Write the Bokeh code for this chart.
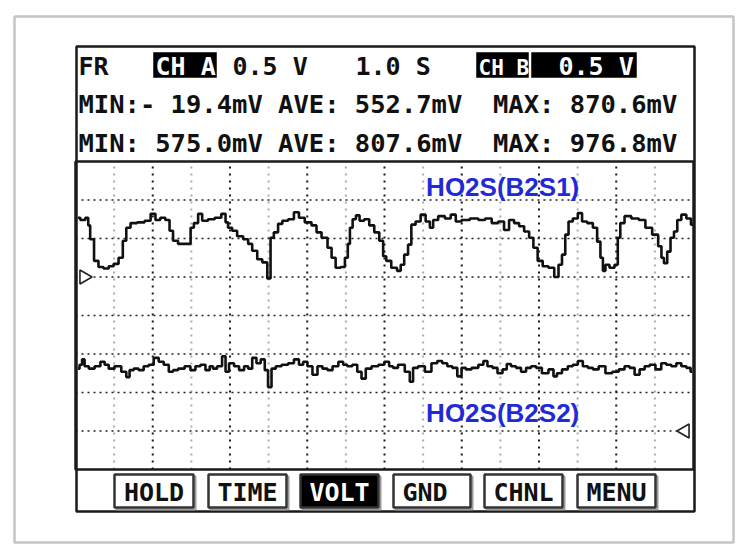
import math
from bokeh.plotting import figure
from bokeh.models import Range1d, Label
from bokeh.embed import file_html
from bokeh.resources import INLINE

# ---------------- data ----------------
time_per_div = 1.0      # s / div
volt_per_div = 0.5      # V / div

ch_a_t = [0.06, 0.19, 0.32, 0.34, 0.42, 0.54, 0.65, 0.80, 0.92, 1.05, 1.18, 1.27, 1.36, 1.49, 1.70,
          1.88, 2.01, 2.13, 2.26, 2.39, 2.48, 2.57, 2.74, 2.96, 3.00, 3.13, 3.22, 3.34, 3.52, 3.69,
          3.86, 3.91, 3.99, 4.12, 4.25, 4.43, 4.51, 4.64, 4.77, 4.90, 5.03, 5.07, 5.20, 5.29, 5.42,
          5.59, 5.72, 5.85, 6.02, 6.20, 6.28, 6.46, 6.59, 6.67, 6.80, 6.93, 7.02, 7.08, 7.13, 7.22,
          7.30, 7.41, 7.54, 7.67, 7.80, 7.93, 8.00, 8.09, 8.26, 8.39, 8.45, 8.57, 8.65, 8.74, 8.87,
          9.00, 9.13, 9.22, 9.30, 9.48, 9.65, 9.78, 9.91, 10.08, 10.34, 10.52, 10.69, 10.86, 11.03,
          11.16, 11.29, 11.42, 11.55, 11.68, 11.81, 11.90, 12.03, 12.16, 12.33, 12.46, 12.55, 12.64,
          12.72, 12.81, 12.94, 13.07, 13.16, 13.33, 13.46, 13.55, 13.63, 13.68, 13.76, 13.89, 14.02,
          14.06, 14.15, 14.28, 14.50, 14.67, 14.84, 15.02, 15.15, 15.19, 15.28, 15.36, 15.45, 15.54,
          15.62, 15.75, 15.88, 15.99]
ch_a_v = [0.77, 0.74, 0.77, 0.67, 0.49, 0.21, 0.13, 0.11, 0.14, 0.17, 0.25, 0.47, 0.64, 0.70, 0.71,
          0.73, 0.82, 0.74, 0.77, 0.74, 0.60, 0.47, 0.43, 0.43, 0.64, 0.70, 0.82, 0.73, 0.75, 0.77,
          0.82, 0.71, 0.64, 0.60, 0.53, 0.49, 0.43, 0.34, 0.23, 0.19, -0.02, 0.51, 0.58, 0.69, 0.73,
          0.75, 0.84, 0.77, 0.71, 0.67, 0.58, 0.51, 0.38, 0.25, 0.12, 0.13, 0.25, 0.43, 0.64, 0.75,
          0.80, 0.73, 0.75, 0.67, 0.58, 0.47, 0.27, 0.21, 0.12, 0.08, 0.16, 0.29, 0.42, 0.68, 0.72,
          0.81, 0.72, 0.64, 0.74, 0.79, 0.76, 0.81, 0.72, 0.74, 0.76, 0.74, 0.76, 0.70, 0.72,
          0.61, 0.74, 0.70, 0.66, 0.59, 0.51, 0.38, 0.21, 0.14, 0.12, 0.00, 0.16, 0.29,
          0.55, 0.72, 0.76, 0.83, 0.72, 0.70, 0.64, 0.46, 0.25, 0.08, 0.16, 0.12, 0.16,
          0.51, 0.70, 0.79, 0.76, 0.74, 0.64, 0.55, 0.40, 0.25, 0.18, 0.33, 0.51, 0.59,
          0.74, 0.81, 0.76, 0.68]

ch_b_t = [0.06, 0.15, 0.19, 0.28, 0.41, 0.58, 0.71, 0.80, 0.92, 1.10, 1.27, 1.36, 1.44, 1.57, 1.70,
          1.83, 1.96, 2.09, 2.22, 2.35, 2.48, 2.57, 2.74, 2.91, 3.04, 3.17, 3.30, 3.43, 3.52, 3.60,
          3.73, 3.86, 3.91, 4.04, 4.17, 4.30, 4.43, 4.51, 4.64, 4.73, 4.86, 4.94, 5.03, 5.12, 5.25,
          5.42, 5.59, 5.72, 5.85, 5.94, 6.07, 6.20, 6.33, 6.46, 6.59, 6.72, 6.89, 6.97, 7.10, 7.23,
          7.36, 7.45, 7.58, 7.75, 7.93, 8.06, 8.18, 8.26, 8.44, 8.61, 8.70, 8.78, 8.96, 9.13, 9.30,
          9.43, 9.56, 9.69, 9.82, 9.95, 10.04, 10.17, 10.34, 10.52, 10.60, 10.73, 10.86, 10.99, 11.12,
          11.21, 11.34, 11.47, 11.60, 11.73, 11.86, 11.99, 12.16, 12.33, 12.42, 12.51, 12.68, 12.81,
          12.94, 13.07, 13.20, 13.33, 13.46, 13.63, 13.81, 13.98, 14.15, 14.28, 14.41, 14.54, 14.67,
          14.80, 14.93, 15.10, 15.23, 15.36, 15.49, 15.62, 15.75, 15.88, 15.97]
ch_b_v = [0.81, 0.86, 0.93, 0.84, 0.81, 0.84, 0.90, 0.86, 0.81, 0.84, 0.77, 0.70, 0.79, 0.81, 0.79,
          0.84, 0.86, 0.95, 0.90, 0.86, 0.77, 0.79, 0.81, 0.84, 0.79, 0.84, 0.86, 0.79, 0.84, 0.81,
          0.84, 0.97, 0.77, 0.88, 0.84, 0.79, 0.84, 0.81, 0.95, 0.88, 0.93, 0.79, 0.57, 0.81, 0.84,
          0.86, 0.88, 0.93, 0.86, 0.90, 0.84, 0.73, 0.84, 0.81, 0.79, 0.84, 0.90, 0.86, 0.84, 0.86,
          0.77, 0.68, 0.81, 0.84, 0.86, 0.90, 0.84, 0.82, 0.86, 0.77, 0.64, 0.82, 0.84, 0.77, 0.88,
          0.91, 0.88, 0.84, 0.82, 0.71, 0.82, 0.80, 0.82, 0.86, 0.91, 0.84, 0.82, 0.75, 0.80,
          0.87, 0.84, 0.82, 0.77, 0.82, 0.84, 0.82, 0.75, 0.80, 0.71, 0.75, 0.80, 0.84,
          0.86, 0.91, 0.84, 0.82, 0.80, 0.84, 0.75, 0.77, 0.80, 0.84, 0.82, 0.73, 0.80,
          0.84, 0.86, 0.80, 0.88, 0.86, 0.84, 0.88, 0.84, 0.82, 0.77]

header_tokens = ["FR", "CH A", "0.5 V", "1.0 S", "CH B", "0.5 V"]
ch_a_stats = ["- 19.4mV", "552.7mV", "870.6mV"]
ch_b_stats = ["575.0mV", "807.6mV", "976.8mV"]
buttons = ["HOLD", "TIME", "VOLT", "GND", "CHNL", "MENU"]
trace_names = ["HO2S(B2S1)", "HO2S(B2S2)"]

# ---------------- layout ----------------
W, H = 740, 552
MONO = "DejaVu Sans Mono"
NB = "\u00a0"
n_tdiv, n_vdiv = 16, 8
# scope graticule position on the canvas (pixels)
SX0, SX1, SY0, SY1 = 75, 693, 161, 469

p = figure(width=W, height=H, output_backend="svg", toolbar_location=None,
           x_range=Range1d(0, W), y_range=Range1d(H, 0),
           x_axis_location=None, y_axis_location=None, min_border=0)
p.outline_line_color = None
p.background_fill_color = "white"
p.border_fill_color = "white"
p.xgrid.visible = False
p.ygrid.visible = False

# data ranges for the scope (time, channel A volts, channel B volts)
t_span = n_tdiv * time_per_div
ppt = (SX1 - SX0) / t_span
a_top, a_bot = 3 * volt_per_div, -5 * volt_per_div
ppv = (SY1 - SY0) / (a_top - a_bot)
b_shift = 4 * volt_per_div
p.extra_x_ranges = {"t": Range1d(-SX0 / ppt, t_span + (W - SX1) / ppt)}
va = Range1d(a_bot - (H - SY1) / ppv, a_top + SY0 / ppv)
p.extra_y_ranges = {"va": va,
                    "vb": Range1d(va.start + b_shift, va.end + b_shift)}
A = dict(x_range_name="t", y_range_name="va")
B = dict(x_range_name="t", y_range_name="vb")

# graticule
odd_t = [k * time_per_div for k in range(1, n_tdiv, 2)]
even_t = [k * time_per_div for k in range(2, n_tdiv, 2)]
h_lines = [a_bot + k * volt_per_div for k in range(1, n_vdiv)]
p.segment(odd_t, [a_bot] * len(odd_t), odd_t, [a_top] * len(odd_t),
          line_color="#ababab", line_width=2, line_dash="2 5", **A)
p.segment(even_t, [a_bot] * len(even_t), even_t, [a_top] * len(even_t),
          line_color="#1a1a1a", line_width=2, line_dash="2 5", **A)
p.segment([0] * len(h_lines), h_lines, [t_span] * len(h_lines), h_lines,
          line_color="#222222", line_width=1.6, line_dash="2 4", **A)

# traces
p.step(ch_a_t, ch_a_v, mode="center", line_color="#111111", line_width=2.6, **A)
p.step(ch_b_t, ch_b_v, mode="center", line_color="#111111", line_width=2.6, **B)

# ground markers
p.scatter([0.22], [0.0], marker="triangle", angle=-math.pi / 2, size=14,
          fill_color="white", line_color="#222222", line_width=1.6, **A)
p.scatter([15.78], [0.0], marker="triangle", angle=math.pi / 2, size=14,
          fill_color="white", line_color="#222222", line_width=1.6, **B)

# trace names
for nm, yv, rng in [(trace_names[0], 1.17, "va"), (trace_names[1], 0.24, "vb")]:
    p.add_layout(Label(x=11.06, y=yv, x_range_name="t", y_range_name=rng, text=nm,
                       text_align="center", text_baseline="middle",
                       text_font="Liberation Sans", text_font_style="bold",
                       text_font_size="26px", text_color="#1f2bd6"))


def box(l, t, r, b, line_color="black", line_width=2.0, fill_color=None):
    p.quad(left=[l], right=[r], top=[t], bottom=[b], line_color=line_color,
           line_width=line_width, fill_color=fill_color if fill_color else "white",
           fill_alpha=1 if fill_color else 0)


def text(x, y, s, size=25, color="#111111", align="left"):
    # y is the baseline; shift compensates the renderer's baseline placement
    p.add_layout(Label(x=x, y=y - 0.33 * size, text=s, text_font=MONO, text_font_style="bold",
                       text_font_size="%gpx" % size, text_color=color, text_align=align,
                       text_baseline="alphabetic"))


# outer frame, screen, graticule outline
box(14, 16, 733, 542, line_color="#c4c4c4", line_width=2.5)
box(76, 46, 694, 511, line_color="#1a1a1a", line_width=2.5)
p.quad(left=[0], right=[t_span], bottom=[a_bot], top=[a_top], fill_alpha=0,
       line_color="#1a1a1a", line_width=2.5, **A)

# header row 1
box(153, 52, 216, 77, fill_color="black", line_color="black", line_width=0.5)
box(476, 52, 528, 77, fill_color="black", line_color="black", line_width=0.5)
box(531, 52, 636, 77, fill_color="black", line_color="black", line_width=0.5)
row1_y = 74
text(78, row1_y, header_tokens[0])
text(155, row1_y, header_tokens[1], color="white")
text(232, row1_y, header_tokens[2])
text(355, row1_y, header_tokens[3])
text(478, row1_y, header_tokens[4], color="white", size=21)
text(558, row1_y, header_tokens[5], color="white")
# header rows 2, 3
text(78, 112, ("MIN:%s AVE: %s " + NB + "MAX: %s") % tuple(ch_a_stats), size=25.5)
text(78, 151, ("MIN: %s AVE: %s " + NB + "MAX: %s") % tuple(ch_b_stats), size=25.5)

# buttons
btn_x = [(114, 193), (208, 286), (300, 378), (393, 470), (484, 562), (577, 655)]
for (l, r), name in zip(btn_x, buttons):
    active = name == "VOLT"
    box(l + 2, 476, r + 2, 509, line_color="#9a9a9a", line_width=2)
    box(l, 474, r, 507, line_color="#333333", line_width=2.5,
        fill_color="black" if active else "white")
    if name == "GND":
        text(l + 9, 500, name)
    else:
        text((l + r) / 2, 500, name, color="white" if active else "#111111", align="center")

open("out.html", "w").write(file_html(p, INLINE))
